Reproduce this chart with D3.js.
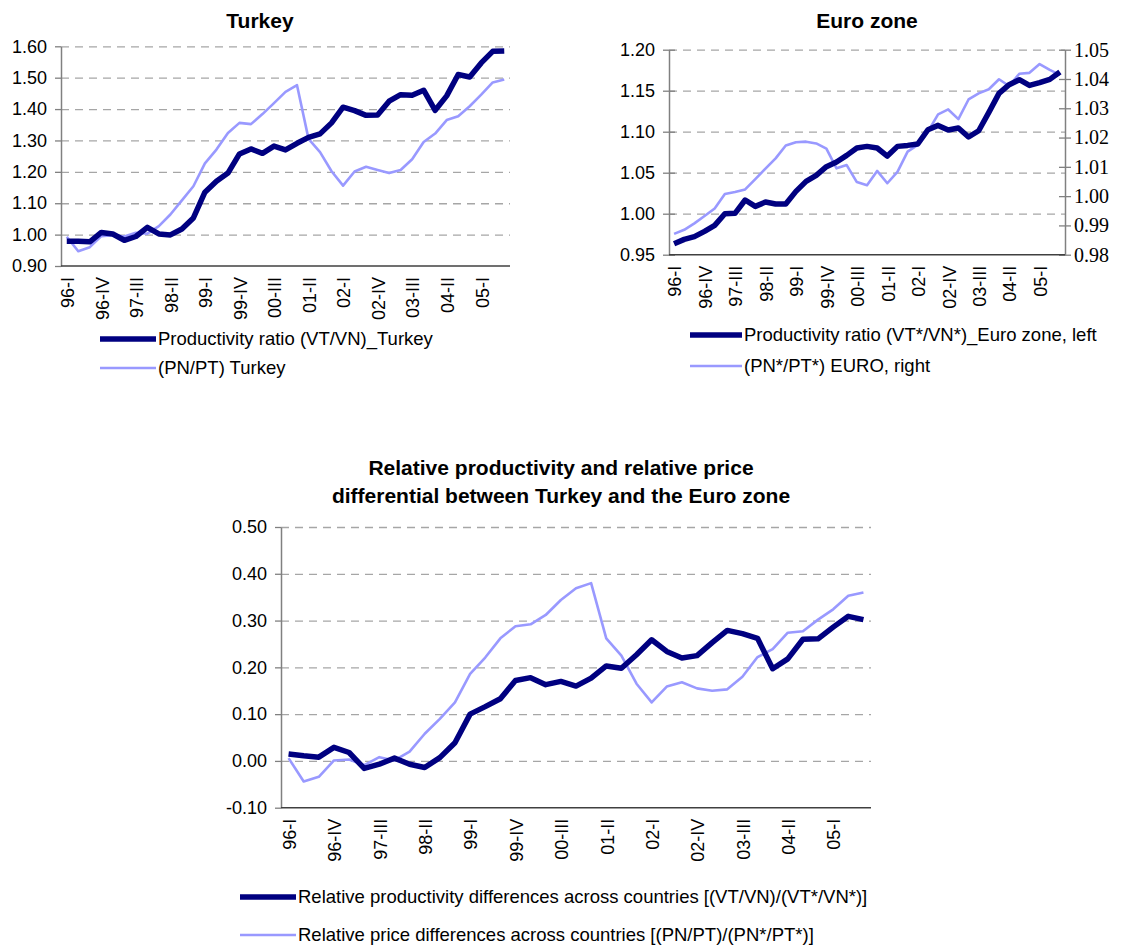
<!DOCTYPE html>
<html>
<head>
<meta charset="utf-8">
<script src="https://cdn.jsdelivr.net/npm/d3@7/dist/d3.min.js"></script>
<style>
  body { margin: 0; background: #fff; }
  svg { font-family: "Liberation Sans", Arial, sans-serif; }
</style>
</head>
<body>
<script>

// quarterly categories, 96-I .. 05-III
var quarters = ["96-I","96-II","96-III","96-IV","97-I","97-II","97-III","97-IV",
  "98-I","98-II","98-III","98-IV","99-I","99-II","99-III","99-IV",
  "00-I","00-II","00-III","00-IV","01-I","01-II","01-III","01-IV",
  "02-I","02-II","02-III","02-IV","03-I","03-II","03-III","03-IV",
  "04-I","04-II","04-III","04-IV","05-I","05-II","05-III"];

var turkeyProd = [0.979,0.979,0.977,1.007,1.002,0.982,0.994,1.023,1.002,0.999,1.018,1.053,1.135,1.170,1.196,1.257,1.273,1.259,1.282,1.270,1.291,1.310,1.321,1.356,1.406,1.395,1.380,1.381,1.425,1.446,1.444,1.460,1.396,1.442,1.510,1.502,1.547,1.584,1.585];
var turkeyPrice = [0.993,0.947,0.960,0.995,0.998,0.994,1.006,1.003,1.027,1.064,1.109,1.154,1.227,1.271,1.324,1.356,1.352,1.384,1.419,1.455,1.476,1.305,1.263,1.202,1.156,1.201,1.216,1.206,1.196,1.206,1.240,1.295,1.322,1.365,1.377,1.409,1.446,1.485,1.494];

var euroProd = [0.9634,0.9687,0.9720,0.9785,0.9858,1.0000,1.0004,1.0167,1.0089,1.0142,1.0118,1.0118,1.0272,1.0394,1.0467,1.0573,1.0630,1.0711,1.0801,1.0821,1.0801,1.0703,1.0821,1.0833,1.0850,1.1024,1.1077,1.1020,1.1045,1.0935,1.1012,1.1236,1.1467,1.1573,1.1634,1.1565,1.1598,1.1638,1.1728];
var euroPrice = [0.9871,0.9885,0.9907,0.9932,0.9958,1.0007,1.0014,1.0023,1.0058,1.0094,1.0129,1.0173,1.0184,1.0186,1.0180,1.0162,1.0095,1.0106,1.0048,1.0037,1.0086,1.0044,1.0083,1.0152,1.0175,1.0220,1.0279,1.0296,1.0263,1.0330,1.0351,1.0365,1.0399,1.0376,1.0418,1.0421,1.0451,1.0431,1.0414];

var relProd = [0.015,0.011,0.008,0.029,0.018,-0.016,-0.007,0.006,-0.007,-0.014,0.007,0.039,0.100,0.116,0.133,0.172,0.178,0.163,0.170,0.160,0.177,0.203,0.198,0.227,0.259,0.234,0.220,0.225,0.253,0.279,0.272,0.262,0.197,0.218,0.260,0.261,0.286,0.309,0.302];
var relPrice = [0.006,-0.044,-0.034,0.001,0.003,-0.009,0.008,0.001,0.020,0.058,0.090,0.125,0.186,0.221,0.262,0.288,0.292,0.312,0.344,0.369,0.380,0.262,0.225,0.165,0.125,0.159,0.168,0.155,0.150,0.153,0.180,0.222,0.239,0.274,0.277,0.302,0.324,0.353,0.360];

var turkeyTicks = [0.90,1.00,1.10,1.20,1.30,1.40,1.50,1.60];
var euroLeftTicks = [0.95,1.00,1.05,1.10,1.15,1.20];
var euroRightTicks = [0.98,0.99,1.00,1.01,1.02,1.03,1.04,1.05];
var relTicks = [-0.10,0.00,0.10,0.20,0.30,0.40,0.50];

var DARK = "#000080", LIGHT = "#9999ff";

// plain hyphen for negatives, like the original
var fmt = d => d3.format(".2f")(d).replace("\u2212", "-");

var svg = d3.select("body").append("svg")
  .attr("width", 1121)
  .attr("height", 947);

svg.append("rect").attr("width", 1121).attr("height", 947).attr("fill", "#fff");

function drawPanel(p) {
  var g = svg.append("g");

  var x = d3.scalePoint()
    .domain(quarters)
    .range([p.left, p.right])
    .padding(0.5);

  var y = d3.scaleLinear().domain(p.domain).range([p.bottom, p.top]);

  // dashed grid
  g.append("g")
    .attr("transform", `translate(${p.left},0)`)
    .call(d3.axisLeft(y).tickValues(p.ticks.slice(1)).tickSize(-(p.right - p.left)).tickFormat(""))
    .call(s => s.select(".domain").remove())
    .selectAll("line")
      .attr("stroke", "#a6a6a6")
      .attr("stroke-width", 1.3)
      .attr("stroke-dasharray", "8,6");

  // left axis
  var ya = g.append("g")
    .attr("transform", `translate(${p.left},0)`)
    .call(d3.axisLeft(y).tickValues(p.ticks).tickSize(6).tickPadding(8).tickSizeOuter(0).tickFormat(fmt));
  ya.select(".domain").attr("stroke", "#808080").attr("stroke-width", 1.5);
  ya.selectAll(".tick line").attr("stroke", "#808080").attr("stroke-width", 1.3);
  if (p.cross) ya.selectAll(".tick line").attr("x1", 6);
  ya.selectAll("text").attr("font-size", 18).attr("fill", "#000")
    .attr("font-family", "Liberation Sans, Arial, sans-serif");

  // right axis (euro zone)
  var y2 = null;
  if (p.rightDomain) {
    y2 = d3.scaleLinear().domain(p.rightDomain).range([p.bottom, p.top]);
    var yr = g.append("g")
      .attr("transform", `translate(${p.right},0)`)
      .call(d3.axisRight(y2).tickValues(p.rightTicks).tickSize(6).tickPadding(3).tickSizeOuter(0).tickFormat(fmt));
    yr.select(".domain").attr("stroke", "#808080").attr("stroke-width", 1.5);
    yr.selectAll(".tick line").attr("stroke", "#808080").attr("stroke-width", 1.3).attr("x1", -6);
    yr.selectAll("text").attr("font-size", 20).attr("fill", "#000")
      .attr("font-family", "Liberation Serif, Times New Roman, serif");
  }

  // category axis
  g.append("line")
    .attr("x1", p.left).attr("x2", p.right)
    .attr("y1", p.bottom).attr("y2", p.bottom)
    .attr("stroke", "#404040").attr("stroke-width", 1.5);

  g.selectAll(".xlab")
    .data(quarters.filter((q, i) => i % 3 === 0))
    .enter().append("text")
      .attr("transform", d => `translate(${x(d) + 1},${p.bottom + 11}) rotate(-90)`)
      .attr("text-anchor", "end")
      .attr("dy", "0.35em")
      .attr("font-size", 18)
      .text(d => d);

  var lineL = d3.line().x((d, i) => x(quarters[i])).y(d => y(d));

  g.append("path").datum(p.light)
    .attr("d", y2 ? d3.line().x((d, i) => x(quarters[i])).y(d => y2(d)) : lineL)
    .attr("fill", "none").attr("stroke", LIGHT).attr("stroke-width", 2.6)
    .attr("stroke-linejoin", "round");

  g.append("path").datum(p.dark)
    .attr("d", lineL)
    .attr("fill", "none").attr("stroke", DARK).attr("stroke-width", 5.5)
    .attr("stroke-linejoin", "round");

  // title
  g.selectAll(".title").data(p.title).enter().append("text")
    .attr("x", p.titleX).attr("y", (d, i) => p.titleY + i * 28)
    .attr("text-anchor", "middle")
    .attr("font-size", 21).attr("font-weight", "bold")
    .text(d => d);

  // legend
  var lg = g.append("g");
  p.legend.forEach(function(item, i) {
    var ly = p.legendY + i * p.legendGap;
    lg.append("line")
      .attr("x1", p.legendX).attr("x2", p.legendX + p.legendLen)
      .attr("y1", ly).attr("y2", ly)
      .attr("stroke", item.color).attr("stroke-width", item.width);
    lg.append("text")
      .attr("x", p.legendX + p.legendLen + 2).attr("y", ly)
      .attr("dy", "0.35em").attr("font-size", 18.5)
      .text(item.label);
  });
}

drawPanel({
  left: 61, right: 510, top: 46.3, bottom: 266,
  domain: [0.9, 1.6], ticks: turkeyTicks,
  dark: turkeyProd, light: turkeyPrice,
  title: ["Turkey"], titleX: 260, titleY: 28,
  legendX: 100, legendLen: 56, legendY: 339, legendGap: 29,
  legend: [
    { label: "Productivity ratio (VT/VN)_Turkey", color: DARK, width: 5.5 },
    { label: "(PN/PT) Turkey", color: LIGHT, width: 2.6 }
  ]
});

drawPanel({
  left: 669, right: 1065, top: 49.7, bottom: 254.7,
  domain: [0.95, 1.20], ticks: euroLeftTicks, cross: true,
  rightDomain: [0.98, 1.05], rightTicks: euroRightTicks,
  dark: euroProd, light: euroPrice,
  title: ["Euro zone"], titleX: 867, titleY: 28,
  legendX: 690, legendLen: 52, legendY: 335, legendGap: 31,
  legend: [
    { label: "Productivity ratio (VT*/VN*)_Euro zone, left", color: DARK, width: 5.5 },
    { label: "(PN*/PT*) EURO, right", color: LIGHT, width: 2.6 }
  ]
});

drawPanel({
  left: 281, right: 871, top: 527, bottom: 807.7,
  domain: [-0.1, 0.5], ticks: relTicks,
  dark: relProd, light: relPrice,
  title: ["Relative productivity and relative price", "differential between Turkey and the Euro zone"],
  titleX: 561, titleY: 475,
  legendX: 240, legendLen: 56, legendY: 897, legendGap: 38,
  legend: [
    { label: "Relative productivity differences across countries [(VT/VN)/(VT*/VN*)]", color: DARK, width: 5.5 },
    { label: "Relative price differences across countries [(PN/PT)/(PN*/PT*)]", color: LIGHT, width: 2.6 }
  ]
});

</script>
</body>
</html>
